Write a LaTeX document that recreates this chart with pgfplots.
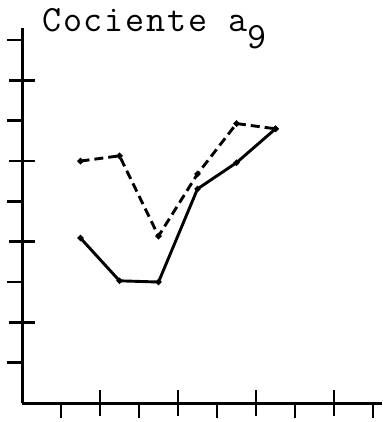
\documentclass[border=0pt]{standalone}
\usepackage{pgfplots}
\pgfplotsset{compat=1.18}
\usepackage{fontspec}
\newfontfamily\tw{Latin Modern Mono}[LetterSpace=5]
\begin{document}
\begin{tikzpicture}
\path[use as bounding box] (-22pt,-19pt) rectangle (360pt,403pt);
\begin{axis}[
  at={(0pt,0pt)}, anchor=south west,
  scale only axis, width=360pt, height=375pt,
  xmin=0, xmax=9.23, ymin=0, ymax=9.3,
  separate axis lines,
  axis x line*=bottom, axis y line*=left,
  axis line style={-, line width=3pt, black},
  xtick={2,4,6,8}, ytick={2,4,6,8},
  xticklabels={}, yticklabels={},
  xtick pos=bottom, ytick pos=left,
  tick align=center, major tick length=26pt,
  tick style={line width=2.6pt, black},
  extra x ticks={1,3,5,7,9}, extra y ticks={1,3,5,7,9},
  extra x tick labels={}, extra y tick labels={},
  extra tick style={tick align=outside, major tick length=15pt},
  clip=false,
]
\addplot[black, line width=2.9pt, mark=*, mark size=1.3pt] coordinates {
  (1.5,4.09) (2.5,3.03) (3.5,3.0) (4.5,5.31) (5.5,5.96) (6.5,6.8)};
\addplot[black, line width=2.9pt, dash pattern=on 9pt off 5pt, mark=*, mark size=1.4pt, mark options={solid}] coordinates {
  (1.5,6.0) (2.5,6.13) (3.5,4.14) (4.5,5.68) (5.5,6.93) (6.5,6.8)};
\end{axis}
\node[anchor=base west, inner sep=0pt] at (20pt,371pt) {\fontsize{37pt}{39pt}\selectfont\tw Cociente a\raisebox{-17pt}{9}};
\end{tikzpicture}
\end{document}
